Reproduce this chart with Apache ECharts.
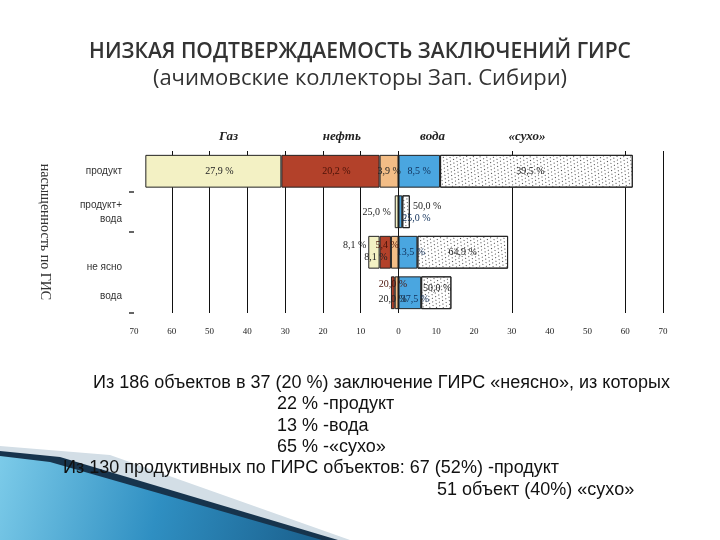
<!DOCTYPE html>
<html>
<head>
<meta charset="utf-8">
<script src="https://cdn.jsdelivr.net/npm/echarts@6/dist/echarts.min.js"></script>
<style>
html,body{margin:0;padding:0;background:#fff}
#main{width:720px;height:540px}
</style>
</head>
<body>
<div id="main"></div>
<script>
// строки (насыщенность по ГИС)
var rows = ['продукт', 'продукт+\nвода', 'не ясно', 'вода'];
// число объектов по заключению ГИРС
var gas      = [36, 1, 3, 0];
var oil      = [26, 0, 3, 1];
var oilWater = [5, 0, 2, 1];
var water    = [11, 1, 5, 6];
var dry      = [51, 2, 24, 8];
// подписи на столбцах
var gasText      = ['27,9 %', '25,0 %', '8,1 %', ''];
var oilText      = ['20,2 %', '', '5,4 %', '20,0 %'];
var oilWaterText = ['3,9 %', '', '8,1 %', '20,0 %'];
var waterText    = ['8,5 %', '25,0 %', '13,5 %', '37,5 %'];
var dryText      = ['39,5 %', '50,0 %', '64,9 %', '50,0 %'];
// вертикальные линии сетки
var gridAt = [-60, -50, -40, -30, -20, -10, 0, 30, 60, 70];
// заголовки колонок
var headNames = ['Газ', 'нефть', 'вода', '«сухо»'];
var headAt = [-45, -15, 9, 34];

// сдвиги подписей (стиль)
var gasOff      = [[6,0],[-20,1],[2,5],[0,0]];
var oilOff      = [[6,0],[0,0],[2,-7],[0,-8]];
var oilWaterOff = [[0,0],[0,0],[-40,-7],[-4,7]];
var waterOff    = [[0,0],[16,7],[3,0],[5,7]];
var dryOff      = [[-6,0],[21,-5],[0,0],[1,-4]];

function mk(name, vals, sign, color, texts, offs, lblColor) {
    return {
        name: name,
        type: 'bar',
        stack: 'all',
        barCategoryGap: '19%',
        data: vals.map(function (v, i) {
            return {
                value: v ? sign * v : null,
                label: { show: !!texts[i], formatter: texts[i], offset: offs[i] }
            };
        }),
        itemStyle: { color: color, borderColor: '#222', borderWidth: 1 },
        label: {
            position: 'inside',
            fontFamily: 'Liberation Serif',
            fontSize: 10,
            color: lblColor || '#222'
        }
    };
}

var sOilWater = mk('нефть+вода', oilWater, -1, '#f3bd86', oilWaterText, oilWaterOff);
sOilWater.markLine = {
    silent: true,
    z: 1,
    symbol: 'none',
    label: { show: false },
    lineStyle: { color: '#111', width: 1, type: 'solid' },
    data: gridAt.map(function (v) { return { xAxis: v }; })
};
var sOil = mk('нефть', oil, -1, '#b3412a', oilText, oilOff, '#4a1208');
var sGas = mk('Газ', gas, -1, '#f3f1c4', gasText, gasOff);
var sWater = mk('вода', water, 1, '#4aa6e0', waterText, waterOff, '#10305a');
var sDry = mk('сухо', dry, 1, '#ffffff', dryText, dryOff);
sDry.itemStyle.decal = {
    symbol: 'rect',
    symbolSize: 1,
    color: '#444',
    dashArrayX: [[1, 3], [0, 2, 1, 1]],
    dashArrayY: [1, 2],
    rotation: 0.5
};

var chart = echarts.init(document.getElementById('main'));
var option = {
    animation: false,
    backgroundColor: '#fff',
    title: {
        text: 'НИЗКАЯ ПОДТВЕРЖДАЕМОСТЬ ЗАКЛЮЧЕНИЙ ГИРС',
        subtext: '(ачимовские коллекторы Зап. Сибири)',
        left: 'center',
        top: 37,
        itemGap: 5,
        textStyle: { fontFamily: 'Open Sans', fontSize: 21, fontWeight: 600, color: '#333' },
        subtextStyle: { fontFamily: 'Open Sans', fontSize: 22, color: '#333' }
    },
    grid: { left: 134, right: 57, top: 151, bottom: 227 },
    xAxis: {
        type: 'value',
        min: -70,
        max: 70,
        interval: 10,
        axisLine: { lineStyle: { color: '#000', width: 1 } },
        axisTick: { show: false },
        splitLine: { show: false },
        axisLabel: {
            formatter: function (v) { return Math.abs(v); },
            fontFamily: 'Liberation Serif',
            fontSize: 9,
            color: '#222',
            margin: 14
        }
    },
    yAxis: {
        type: 'category',
        data: rows,
        inverse: true,
        name: 'насыщенность по ГИС',
        nameLocation: 'middle',
        nameRotate: -90,
        nameGap: 82,
        nameTextStyle: { fontFamily: 'Liberation Serif', fontSize: 14, color: '#333' },
        axisLine: { show: true, onZero: false, lineStyle: { color: 'rgba(0,0,0,0)' } },
        axisTick: {
            show: true,
            length: 5,
            lineStyle: { color: '#333', width: 1.5 },
            interval: function (i) { return i === 1 || i === 2; }
        },
        axisLabel: {
            fontFamily: 'Liberation Sans',
            fontSize: 10,
            lineHeight: 14,
            color: '#333',
            margin: 12,
            formatter: function (v, i) {
                if (i === 2) return '{d|' + v + '}';
                if (i === 3) return '{e|' + v + '}';
                return v;
            },
            rich: {
                d: { fontFamily: 'Liberation Sans', fontSize: 10, color: '#333', padding: [30, 0, 0, 0] },
                e: { fontFamily: 'Liberation Sans', fontSize: 10, color: '#333', padding: [6, 0, 0, 0] }
            }
        }
    },
    series: [sOilWater, sOil, sGas, sWater, sDry]
};
chart.setOption(option);

// заголовки колонок и текст слайда
var gr = [];
gr.push({ type: 'polygon', shape: { points: [[0,446],[110,455],[350,540],[0,540]] }, style: { fill: '#d3dee6' }, z: 0 });
gr.push({ type: 'polygon', shape: { points: [[0,451],[60,457],[338,540],[0,540]] }, style: { fill: '#17344d' }, z: 0 });
gr.push({ type: 'polygon', shape: { points: [[0,456],[50,462],[322,540],[0,540]] },
    style: { fill: new echarts.graphic.LinearGradient(0, 0, 1, 1, [
        { offset: 0, color: '#7ccbe9' }, { offset: 0.5, color: '#2f8fc2' }, { offset: 1, color: '#1a5f8c' }]) }, z: 0 });

headNames.forEach(function (t, i) {
    var px = chart.convertToPixel({ xAxisIndex: 0 }, headAt[i]);
    gr.push({ type: 'text', x: px, y: 137, z: 10,
        style: { text: t, font: 'italic bold 13px "Liberation Serif"', fill: '#222', align: 'center', verticalAlign: 'middle' } });
});

var notes = [
    ['Из 186 объектов в 37 (20 %) заключение ГИРС «неясно», из которых', 93, 383],
    ['22 % -продукт', 277, 404],
    ['13 % -вода', 277, 426],
    ['65 % -«сухо»', 277, 447],
    ['Из 130 продуктивных по ГИРС объектов: 67 (52%) -продукт', 63, 468],
    ['51 объект (40%) «сухо»', 437, 490]
];
notes.forEach(function (n) {
    gr.push({ type: 'text', x: n[1], y: n[2], z: 10,
        style: { text: n[0], font: '18px "Liberation Sans"', fill: '#111', align: 'left', verticalAlign: 'middle' } });
});
chart.setOption({ graphic: gr });
</script>
</body>
</html>
